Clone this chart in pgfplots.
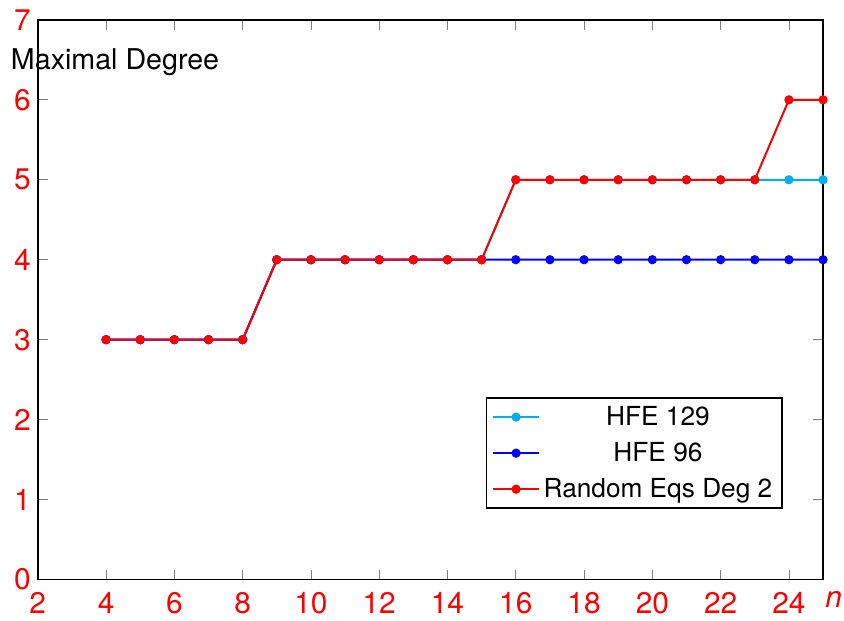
\documentclass[border=0pt]{standalone}
\usepackage{pgfplots}
\pgfplotsset{compat=1.18}
\usepackage{fontspec}
\setmainfont{TeX Gyre Heros}
\definecolor{hfecyan}{RGB}{0,174,239}
\begin{document}
\begin{tikzpicture}
\begin{axis}[
  scale only axis,
  width=395pt,
  height=281.5pt,
  xmin=2, xmax=25,
  ymin=0, ymax=7,
  xtick={2,4,...,24},
  ytick={0,1,...,7},
  axis line style={line width=1pt},
  tick style={gray, thin},
  major tick length=5pt,
  tick align=inside,
  ticklabel style={red, font=\fontsize{15}{18}\selectfont},
  xticklabel style={yshift=-3pt},
  /pgf/number format/assume math mode=true,
  xlabel={\textit{n}},
  xlabel style={at={(ticklabel* cs:1)}, anchor=north west, inner sep=1pt, yshift=-5pt, font=\fontsize{15}{18}\selectfont, red},
  ylabel={Maximal Degree},
  ylabel style={rotate=-90, at={(rel axis cs:0,0.925)}, anchor=west, xshift=-17pt, font=\fontsize{14.4}{17}\selectfont},
  legend style={at={(0.949,0.126)}, anchor=south east, font=\fontsize{13.2}{16}\selectfont, draw=black, line width=0.8pt, row sep=3pt},
  legend cell align=center,
  legend image code/.code={\draw[mark repeat=2, mark phase=2] plot coordinates {(0cm,0cm) (0.4cm,0cm) (0.8cm,0cm)};},
  every axis plot/.append style={line width=1pt, mark=*, mark size=1.8pt},
]
\addplot[hfecyan, mark options={fill=hfecyan}] coordinates {
(4,3) (5,3) (6,3) (7,3) (8,3) (9,4) (10,4) (11,4) (12,4) (13,4) (14,4) (15,4)
(16,5) (17,5) (18,5) (19,5) (20,5) (21,5) (22,5) (23,5) (24,5) (25,5)};
\addplot[blue, mark options={fill=blue}] coordinates {
(4,3) (5,3) (6,3) (7,3) (8,3) (9,4) (10,4) (11,4) (12,4) (13,4) (14,4) (15,4)
(16,4) (17,4) (18,4) (19,4) (20,4) (21,4) (22,4) (23,4) (24,4) (25,4)};
\addplot[red, mark options={fill=red}] coordinates {
(4,3) (5,3) (6,3) (7,3) (8,3) (9,4) (10,4) (11,4) (12,4) (13,4) (14,4) (15,4)
(16,5) (17,5) (18,5) (19,5) (20,5) (21,5) (22,5) (23,5) (24,6) (25,6)};
\legend{HFE 129, HFE 96, Random Eqs Deg 2}
\end{axis}
\path ([shift={(-19pt,-17pt)}]current axis.south west) rectangle ([shift={(8pt,10pt)}]current axis.north east);
\end{tikzpicture}
\end{document}
